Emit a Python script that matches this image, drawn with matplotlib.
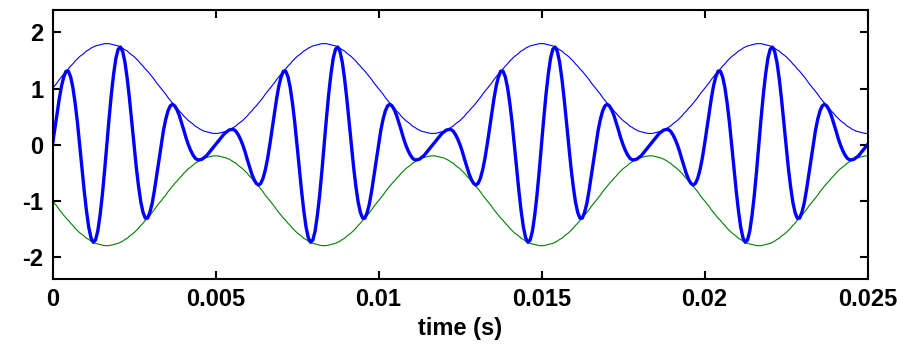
import numpy as np
import matplotlib
matplotlib.use('Agg')
import matplotlib.pyplot as plt

plt.rcParams['font.family'] = ['Liberation Sans', 'DejaVu Sans']
plt.rcParams['axes.unicode_minus'] = False

# sample rate of the plotted signal (Hz) and axis ticks
fs = 14400
x_ticks = [0, 0.005, 0.01, 0.015, 0.02, 0.025]
x_tick_labels = ['0', '0.005', '0.01', '0.015', '0.02', '0.025']
y_ticks = [-2, -1, 0, 1, 2]

# beat signal, values (two rows = one carrier cycle)
signal = [
    0, 0.27, 0.55, 0.82, 1.05, 1.21, 1.31, 1.31, 1.21, 1.02, 0.74, 0.40,
    0, -0.41, -0.82, -1.18, -1.47, -1.66, -1.74, -1.70, -1.54, -1.26, -0.90, -0.47,
    0, 0.47, 0.90, 1.26, 1.54, 1.70, 1.74, 1.66, 1.47, 1.18, 0.82, 0.41,
    0, -0.40, -0.74, -1.02, -1.21, -1.31, -1.31, -1.21, -1.05, -0.82, -0.55, -0.27,
    0, 0.25, 0.45, 0.60, 0.69, 0.72, 0.69, 0.62, 0.52, 0.39, 0.26, 0.12,
    0, -0.10, -0.18, -0.24, -0.27, -0.27, -0.26, -0.23, -0.20, -0.15, -0.10, -0.05,
    0, 0.05, 0.10, 0.15, 0.20, 0.23, 0.26, 0.27, 0.27, 0.24, 0.18, 0.10,
    0, -0.12, -0.26, -0.39, -0.52, -0.62, -0.69, -0.72, -0.69, -0.60, -0.45, -0.25,
    0, 0.27, 0.55, 0.82, 1.05, 1.21, 1.31, 1.31, 1.21, 1.02, 0.74, 0.40,
    0, -0.41, -0.82, -1.18, -1.47, -1.66, -1.74, -1.70, -1.54, -1.26, -0.90, -0.47,
    0, 0.47, 0.90, 1.26, 1.54, 1.70, 1.74, 1.66, 1.47, 1.18, 0.82, 0.41,
    0, -0.40, -0.74, -1.02, -1.21, -1.31, -1.31, -1.21, -1.05, -0.82, -0.55, -0.27,
    0, 0.25, 0.45, 0.60, 0.69, 0.72, 0.69, 0.62, 0.52, 0.39, 0.26, 0.12,
    0, -0.10, -0.18, -0.24, -0.27, -0.27, -0.26, -0.23, -0.20, -0.15, -0.10, -0.05,
    0, 0.05, 0.10, 0.15, 0.20, 0.23, 0.26, 0.27, 0.27, 0.24, 0.18, 0.10,
    0, -0.12, -0.26, -0.39, -0.52, -0.62, -0.69, -0.72, -0.69, -0.60, -0.45, -0.25,
    0, 0.27, 0.55, 0.82, 1.05, 1.21, 1.31, 1.31, 1.21, 1.02, 0.74, 0.40,
    0, -0.41, -0.82, -1.18, -1.47, -1.66, -1.74, -1.70, -1.54, -1.26, -0.90, -0.47,
    0, 0.47, 0.90, 1.26, 1.54, 1.70, 1.74, 1.66, 1.47, 1.18, 0.82, 0.41,
    0, -0.40, -0.74, -1.02, -1.21, -1.31, -1.31, -1.21, -1.05, -0.82, -0.55, -0.27,
    0, 0.25, 0.45, 0.60, 0.69, 0.72, 0.69, 0.62, 0.52, 0.39, 0.26, 0.12,
    0, -0.10, -0.18, -0.24, -0.27, -0.27, -0.26, -0.23, -0.20, -0.15, -0.10, -0.05,
    0, 0.05, 0.10, 0.15, 0.20, 0.23, 0.26, 0.27, 0.27, 0.24, 0.18, 0.10,
    0, -0.12, -0.26, -0.39, -0.52, -0.62, -0.69, -0.72, -0.69, -0.60, -0.45, -0.25,
    0, 0.27, 0.55, 0.82, 1.05, 1.21, 1.31, 1.31, 1.21, 1.02, 0.74, 0.40,
    0, -0.41, -0.82, -1.18, -1.47, -1.66, -1.74, -1.70, -1.54, -1.26, -0.90, -0.47,
    0, 0.47, 0.90, 1.26, 1.54, 1.70, 1.74, 1.66, 1.47, 1.18, 0.82, 0.41,
    0, -0.40, -0.74, -1.02, -1.21, -1.31, -1.31, -1.21, -1.05, -0.82, -0.55, -0.27,
    0, 0.25, 0.45, 0.60, 0.69, 0.72, 0.69, 0.62, 0.52, 0.39, 0.26, 0.12,
    0, -0.10, -0.18, -0.24, -0.27, -0.27, -0.26, -0.23, -0.20, -0.15, -0.10, -0.05,
    0,
]

# upper envelope (thin blue); the green lower one is its mirror image
env_upper = [
    1.00, 1.05, 1.10, 1.16, 1.21, 1.26, 1.31, 1.35, 1.40, 1.44, 1.49, 1.53,
    1.57, 1.60, 1.63, 1.67, 1.69, 1.72, 1.74, 1.76, 1.77, 1.78, 1.79, 1.80,
    1.80, 1.80, 1.79, 1.78, 1.77, 1.76, 1.74, 1.72, 1.69, 1.67, 1.63, 1.60,
    1.57, 1.53, 1.49, 1.44, 1.40, 1.35, 1.31, 1.26, 1.21, 1.16, 1.10, 1.05,
    1.00, 0.95, 0.90, 0.84, 0.79, 0.74, 0.69, 0.65, 0.60, 0.56, 0.51, 0.47,
    0.43, 0.40, 0.37, 0.33, 0.31, 0.28, 0.26, 0.24, 0.23, 0.22, 0.21, 0.20,
    0.20, 0.20, 0.21, 0.22, 0.23, 0.24, 0.26, 0.28, 0.31, 0.33, 0.37, 0.40,
    0.43, 0.47, 0.51, 0.56, 0.60, 0.65, 0.69, 0.74, 0.79, 0.84, 0.90, 0.95,
    1.00, 1.05, 1.10, 1.16, 1.21, 1.26, 1.31, 1.35, 1.40, 1.44, 1.49, 1.53,
    1.57, 1.60, 1.63, 1.67, 1.69, 1.72, 1.74, 1.76, 1.77, 1.78, 1.79, 1.80,
    1.80, 1.80, 1.79, 1.78, 1.77, 1.76, 1.74, 1.72, 1.69, 1.67, 1.63, 1.60,
    1.57, 1.53, 1.49, 1.44, 1.40, 1.35, 1.31, 1.26, 1.21, 1.16, 1.10, 1.05,
    1.00, 0.95, 0.90, 0.84, 0.79, 0.74, 0.69, 0.65, 0.60, 0.56, 0.51, 0.47,
    0.43, 0.40, 0.37, 0.33, 0.31, 0.28, 0.26, 0.24, 0.23, 0.22, 0.21, 0.20,
    0.20, 0.20, 0.21, 0.22, 0.23, 0.24, 0.26, 0.28, 0.31, 0.33, 0.37, 0.40,
    0.43, 0.47, 0.51, 0.56, 0.60, 0.65, 0.69, 0.74, 0.79, 0.84, 0.90, 0.95,
    1.00, 1.05, 1.10, 1.16, 1.21, 1.26, 1.31, 1.35, 1.40, 1.44, 1.49, 1.53,
    1.57, 1.60, 1.63, 1.67, 1.69, 1.72, 1.74, 1.76, 1.77, 1.78, 1.79, 1.80,
    1.80, 1.80, 1.79, 1.78, 1.77, 1.76, 1.74, 1.72, 1.69, 1.67, 1.63, 1.60,
    1.57, 1.53, 1.49, 1.44, 1.40, 1.35, 1.31, 1.26, 1.21, 1.16, 1.10, 1.05,
    1.00, 0.95, 0.90, 0.84, 0.79, 0.74, 0.69, 0.65, 0.60, 0.56, 0.51, 0.47,
    0.43, 0.40, 0.37, 0.33, 0.31, 0.28, 0.26, 0.24, 0.23, 0.22, 0.21, 0.20,
    0.20, 0.20, 0.21, 0.22, 0.23, 0.24, 0.26, 0.28, 0.31, 0.33, 0.37, 0.40,
    0.43, 0.47, 0.51, 0.56, 0.60, 0.65, 0.69, 0.74, 0.79, 0.84, 0.90, 0.95,
    1.00, 1.05, 1.10, 1.16, 1.21, 1.26, 1.31, 1.35, 1.40, 1.44, 1.49, 1.53,
    1.57, 1.60, 1.63, 1.67, 1.69, 1.72, 1.74, 1.76, 1.77, 1.78, 1.79, 1.80,
    1.80, 1.80, 1.79, 1.78, 1.77, 1.76, 1.74, 1.72, 1.69, 1.67, 1.63, 1.60,
    1.57, 1.53, 1.49, 1.44, 1.40, 1.35, 1.31, 1.26, 1.21, 1.16, 1.10, 1.05,
    1.00, 0.95, 0.90, 0.84, 0.79, 0.74, 0.69, 0.65, 0.60, 0.56, 0.51, 0.47,
    0.43, 0.40, 0.37, 0.33, 0.31, 0.28, 0.26, 0.24, 0.23, 0.22, 0.21, 0.20,
    0.20,
]
env_lower = [-v for v in env_upper]

t = np.arange(len(signal)) / fs

W, H = 897, 348
fig = plt.figure(figsize=(W / 100, H / 100), dpi=100)
ax = fig.add_axes([52.5 / W, (H - 279.3) / H, 815 / W, 269.3 / H])

ax.plot(t, env_upper, color='#0000ff', linewidth=0.8)
ax.plot(t, env_lower, color='#008000', linewidth=0.8)
ax.plot(t, signal, color='#0000ff', linewidth=2.4)

ax.set_xlim(0, 0.025)
ax.set_ylim(-2.4, 2.4)
ax.set_xticks(x_ticks)
ax.set_xticklabels(x_tick_labels)
ax.set_yticks(y_ticks)

for s in ax.spines.values():
    s.set_linewidth(1.5)
ax.tick_params(direction='in', length=6, width=1.5, top=True, right=True,
               labelsize=17, pad=6.5)
for lab in ax.get_xticklabels() + ax.get_yticklabels():
    lab.set_fontweight('bold')

ax.set_xlabel('time (s)', fontsize=17, fontweight='bold', labelpad=4)

fig.savefig('out.png', dpi=100)
